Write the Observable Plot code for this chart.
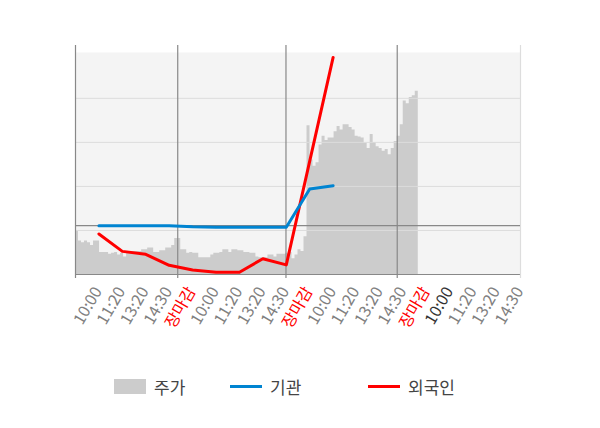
<!DOCTYPE html>
<html><head><meta charset="utf-8">
<script src="https://cdn.jsdelivr.net/npm/d3@7"></script>
<script src="https://cdn.jsdelivr.net/npm/@observablehq/plot@0.6"></script>
<style>
html,body{margin:0;padding:0;background:#fff;overflow:hidden;}
#wrap{position:relative;width:600px;height:428px;font-family:"Noto Sans CJK KR","Noto Sans",sans-serif;}
.legend{position:absolute;top:373px;left:0;width:600px;height:26px;font-size:17px;color:#444;}
.item{position:absolute;top:0;display:flex;align-items:center;height:26px;white-space:nowrap;}
.sw{display:inline-block;width:32px;margin-right:8px;}
</style></head><body>
<div id="wrap"></div>
<script>
// ---- data ----
const day1Prices = [9490, 9380, 9360, 9380, 9360, 9330, 9380, 9380, 9250, 9250, 9250, 9230, 9240, 9250, 9220, 9240, 9200, 9260, 9260, 9260, 9260, 9260, 9280, 9280, 9300, 9300, 9250, 9250, 9270, 9270, 9300, 9300, 9330, 9410];
const day2Prices = [9410, 9280, 9280, 9240, 9250, 9240, 9240, 9190, 9190, 9190, 9190, 9220, 9240, 9240, 9250, 9280, 9280, 9250, 9280, 9280, 9270, 9270, 9250, 9250, 9240, 9240, 9200, 9190, 9190, 9190, 9220, 9220, 9200, 9230, 9230, 9230];
const day3Prices = [9240, 9250, 9180, 9220, 9280, 9260, 9430, 10690, 10300, 10230, 10270, 10470, 10570, 10520, 10550, 10550, 10620, 10680, 10640, 10700, 10700, 10670, 10640, 10570, 10560, 10550, 10490, 10430, 10590, 10500, 10450, 10430, 10400, 10420, 10360, 10430, 10510];
const day4Prices = [10570, 10700, 10970, 10940, 11010, 11030, 11080];
const sessionSlots = 148;
const priceDomain = [9000, 11600];
const priceGrid = [9500, 10000, 10500, 11000];

const timeLabels = ["10:00","11:20","13:20","14:30","장마감","10:00","11:20","13:20","14:30","장마감","10:00","11:20","13:20","14:30","장마감","10:00","11:20","13:20","14:30"];
const currentDayLabel = 15;
const institution = [0, 0, 0, 0, -5, -7, -7, -7, -7, 160, 175];
const foreign = [-36, -112, -125, -173, -193, -203, -203, -144, -171, 282, 735];
const flowDomain = [-213, 787];

const legendNames = ["주가", "기관", "외국인"];

// ---- build ----
const days = [day1Prices, day2Prices, day3Prices, day4Prices];
const dayStarts = [];
const priceData = [];
let idx = 0;
for (const day of days) {
  dayStarts.push(idx);
  for (const p of day) priceData.push({i: idx++, p});
}
priceData.push({i: idx, p: priceData[priceData.length - 1].p});

const W = 600, H = 350;
const M = {marginLeft: 75, marginRight: 80, marginTop: 45, marginBottom: 76};
const FONT = '"Noto Sans CJK KR","Noto Sans",sans-serif';

const chart1 = Plot.plot({
  width: W, height: H, ...M,
  style: {background: "transparent", position: "absolute", left: "0px", top: "0px", overflow: "visible"},
  x: {domain: [0, sessionSlots], axis: null},
  y: {domain: priceDomain, axis: null},
  marks: [
    Plot.frame({fill: "#f4f4f4", stroke: "none", insetTop: 7}),
    Plot.areaY(priceData, {x: "i", y1: priceDomain[0], y2: "p", fill: "#cccccc", curve: "step-after"}),
    Plot.ruleY(priceGrid, {stroke: "#dcdcdc", strokeWidth: 1}),
    Plot.ruleY([priceDomain[0]], {stroke: "#888", strokeWidth: 1.2}),
    Plot.ruleX([sessionSlots], {stroke: "#dddddd", strokeWidth: 1.2, insetBottom: -4}),
    Plot.ruleX(dayStarts, {stroke: "#888", strokeWidth: 1.2, insetBottom: -4})
  ]
});

const chart2 = Plot.plot({
  width: W, height: H, ...M,
  style: {background: "transparent", position: "absolute", left: "0px", top: "0px", overflow: "visible"},
  x: {type: "point", domain: d3.range(timeLabels.length), padding: 0.5, align: 1, round: false, axis: null},
  y: {domain: flowDomain, axis: null},
  color: {type: "identity"},
  marks: [
    Plot.ruleY([0], {stroke: "#888", strokeWidth: 1.2}),
    Plot.line(foreign, {x: (d, i) => i, y: d => d, stroke: "#ff0000", strokeWidth: 3}),
    Plot.line(institution, {x: (d, i) => i, y: d => d, stroke: "#0084d1", strokeWidth: 3}),
    Plot.text(timeLabels, {
      x: (d, i) => i, text: d => d, frameAnchor: "bottom",
      rotate: -60, textAnchor: "end", lineAnchor: "middle", dy: 14, dx: -1,
      fontSize: 16, fontFamily: FONT,
      fill: (d, i) => d === "장마감" ? "#ff0000" : (i === currentDayLabel ? "#333333" : "#808080")
    })
  ]
});

const wrap = document.getElementById("wrap");
wrap.appendChild(chart1);
wrap.appendChild(chart2);

const legend = document.createElement("div");
legend.className = "legend";
const legendStyles = [
  {left: 114, sw: "height:15px;background:#cccccc;"},
  {left: 230, sw: "height:3px;background:#0084d1;"},
  {left: 368, sw: "height:3px;background:#ff0000;"}
];
legendNames.forEach((name, k) => {
  const it = document.createElement("div");
  it.className = "item";
  it.style.left = legendStyles[k].left + "px";
  it.innerHTML = `<span class="sw" style="${legendStyles[k].sw}"></span><span>${name}</span>`;
  legend.appendChild(it);
});
wrap.appendChild(legend);
</script>
</body></html>
